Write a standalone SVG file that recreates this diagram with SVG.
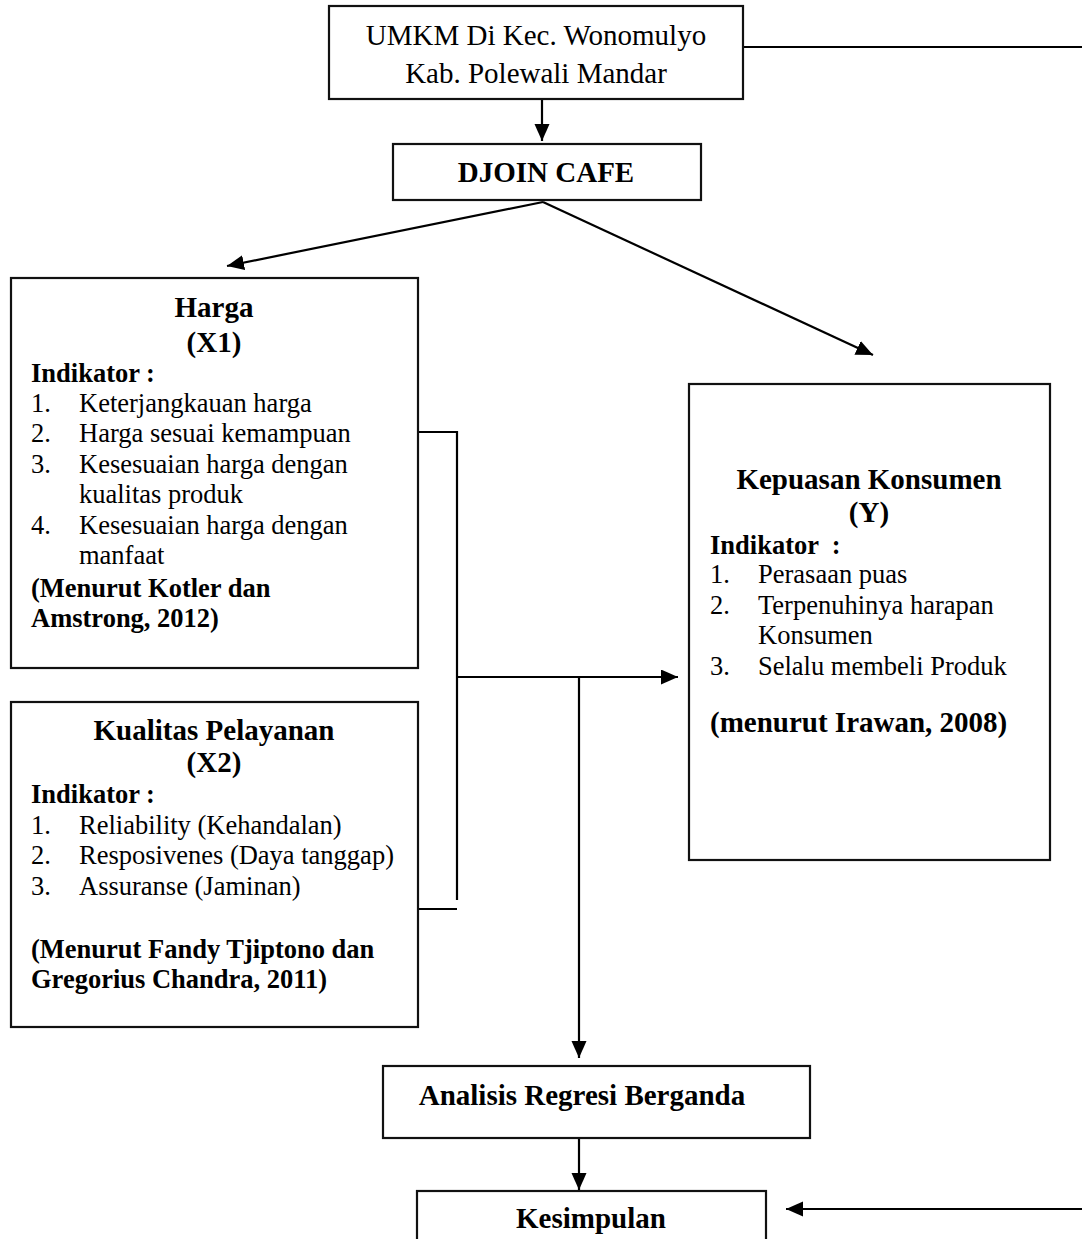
<svg xmlns="http://www.w3.org/2000/svg" width="1082" height="1239" viewBox="0 0 1082 1239">
<style>
  .box { fill: #fff; stroke: #111; stroke-width: 2.2; }
  .ln { fill: none; stroke: #000; stroke-width: 2.2; }
  text { font-family: "Liberation Serif", "Times New Roman", serif; fill: #000; }
  .t29 { font-size: 29px; }
  .b29 { font-size: 29px; font-weight: bold; }
  .r26 { font-size: 26.5px; }
  .b26 { font-size: 26.5px; font-weight: bold; }
  .c { text-anchor: middle; }
</style>
<defs>
  <marker id="ah" markerUnits="userSpaceOnUse" markerWidth="18" markerHeight="16" refX="17" refY="7.5" orient="auto" viewBox="0 0 18 16">
    <path d="M0,0 L17,7.5 L0,15 z" fill="#000"/>
  </marker>
</defs>
<rect width="1082" height="1239" fill="#fff"/>

<g id="connectors">
  <line class="ln" x1="743" y1="47" x2="1082" y2="47"/>
  <line class="ln" x1="542" y1="99" x2="542" y2="141" marker-end="url(#ah)"/>
  <line class="ln" x1="543" y1="202" x2="227" y2="266" marker-end="url(#ah)"/>
  <line class="ln" x1="543" y1="202" x2="873" y2="355" marker-end="url(#ah)"/>
  <polyline class="ln" points="418,432 457,432 457,900"/>
  <line class="ln" x1="418" y1="909" x2="457" y2="909"/>
  <line class="ln" x1="457" y1="677" x2="678" y2="677" marker-end="url(#ah)"/>
  <line class="ln" x1="579" y1="677" x2="579" y2="1058" marker-end="url(#ah)"/>
  <line class="ln" x1="579" y1="1138" x2="579" y2="1190" marker-end="url(#ah)"/>
  <line class="ln" x1="1082" y1="1209" x2="786" y2="1209" marker-end="url(#ah)"/>
</g>

<g id="node-umkm">
  <rect class="box" x="329" y="6" width="414" height="93"/>
  <text class="t29 c" x="536" y="45">UMKM Di Kec. Wonomulyo</text>
  <text class="t29 c" x="536" y="83">Kab. Polewali Mandar</text>
</g>

<g id="node-djoin">
  <rect class="box" x="393" y="144" width="308" height="56"/>
  <text class="b29 c" x="546" y="182">DJOIN CAFE</text>
</g>

<g id="node-harga">
  <rect class="box" x="11" y="278" width="407" height="390"/>
  <text class="b29 c" x="214" y="317">Harga</text>
  <text class="b29 c" x="214" y="352">(X1)</text>
  <text class="b26" x="31" y="382">Indikator :</text>
  <text class="r26" x="31" y="412">1.</text><text class="r26" x="79" y="412">Keterjangkauan harga</text>
  <text class="r26" x="31" y="442">2.</text><text class="r26" x="79" y="442">Harga sesuai kemampuan</text>
  <text class="r26" x="31" y="473">3.</text><text class="r26" x="79" y="473">Kesesuaian harga dengan</text>
  <text class="r26" x="79" y="503">kualitas produk</text>
  <text class="r26" x="31" y="534">4.</text><text class="r26" x="79" y="534">Kesesuaian harga dengan</text>
  <text class="r26" x="79" y="564">manfaat</text>
  <text class="b26" x="31" y="597">(Menurut Kotler dan</text>
  <text class="b26" x="31" y="627">Amstrong, 2012)</text>
</g>

<g id="node-kualitas">
  <rect class="box" x="11" y="702" width="407" height="325"/>
  <text class="b29 c" x="214" y="740">Kualitas Pelayanan</text>
  <text class="b29 c" x="214" y="772">(X2)</text>
  <text class="b26" x="31" y="803">Indikator :</text>
  <text class="r26" x="31" y="834">1.</text><text class="r26" x="79" y="834">Reliability (Kehandalan)</text>
  <text class="r26" x="31" y="864">2.</text><text class="r26" x="79" y="864">Resposivenes (Daya tanggap)</text>
  <text class="r26" x="31" y="895">3.</text><text class="r26" x="79" y="895">Assuranse (Jaminan)</text>
  <text class="b26" x="31" y="958">(Menurut Fandy Tjiptono dan</text>
  <text class="b26" x="31" y="988">Gregorius Chandra, 2011)</text>
</g>

<g id="node-kepuasan">
  <rect class="box" x="689" y="384" width="361" height="476"/>
  <text class="b29 c" x="869" y="489">Kepuasan Konsumen</text>
  <text class="b29 c" x="869" y="522">(Y)</text>
  <text class="b26" x="710" y="554" xml:space="preserve">Indikator  :</text>
  <text class="r26" x="710" y="583">1.</text><text class="r26" x="758" y="583">Perasaan puas</text>
  <text class="r26" x="710" y="614">2.</text><text class="r26" x="758" y="614">Terpenuhinya harapan</text>
  <text class="r26" x="758" y="644">Konsumen</text>
  <text class="r26" x="710" y="675">3.</text><text class="r26" x="758" y="675">Selalu membeli Produk</text>
  <text class="b29" x="710" y="732">(menurut Irawan, 2008)</text>
</g>

<g id="node-analisis">
  <rect class="box" x="383" y="1066" width="427" height="72"/>
  <text class="b29 c" x="582" y="1105">Analisis Regresi Berganda</text>
</g>

<g id="node-kesimpulan">
  <rect class="box" x="417" y="1191" width="349" height="60"/>
  <text class="b29 c" x="591" y="1228">Kesimpulan</text>
</g>
</svg>
